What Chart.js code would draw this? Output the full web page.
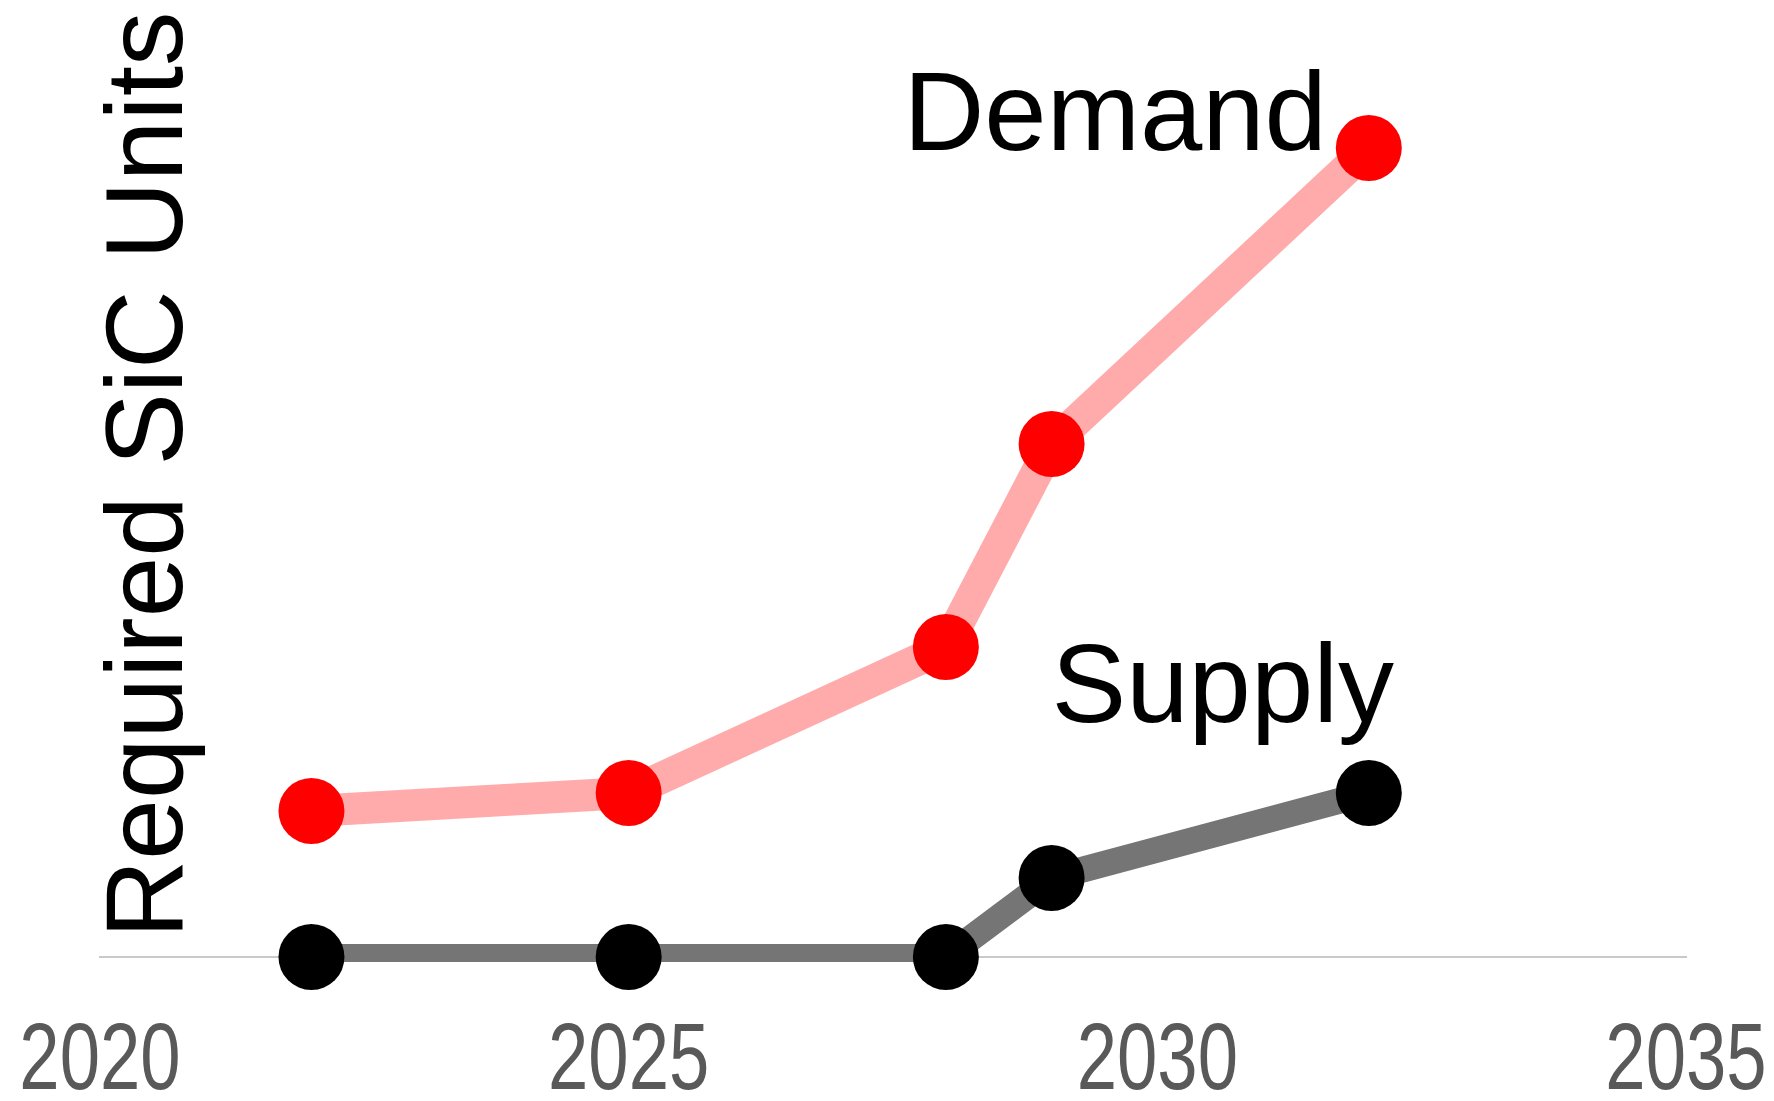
<!DOCTYPE html>
<html><head><meta charset="utf-8">
<script src="https://cdn.jsdelivr.net/npm/chart.js@4"></script>
<style>html,body{margin:0;padding:0;background:#fff;} #wrap{width:1774px;height:1101px;position:relative;}</style>
</head><body><div id="wrap"><canvas id="c"></canvas></div>
<script>
const years = [2022, 2025, 2028, 2029, 2032];
const demand = [1.46, 1.64, 3.10, 5.13, 8.09];
const supply = [0, 0, 0, 0.79, 1.64];
const xTicks = [2020, 2025, 2030, 2035];
const yTitle = 'Required SiC Units';
const seriesLabels = ['Demand', 'Supply'];

const toXY = (vals) => years.map((x, i) => ({x: x, y: vals[i]}));
const FONT = '"Liberation Sans", Arial, sans-serif';
const TICK_SQUEEZE = 0.763; // tick labels in the reference are horizontally condensed

const labelPlugin = {
  id: 'seriesLabels',
  afterDatasetsDraw(chart) {
    const {ctx, chartArea} = chart;
    ctx.save();
    ctx.fillStyle = '#000';
    ctx.font = '109px ' + FONT;
    ctx.save();
    ctx.translate(chartArea.left + 82, chartArea.top + 418);
    ctx.rotate(-Math.PI / 2);
    ctx.textAlign = 'center';
    ctx.textBaseline = 'alphabetic';
    ctx.fillText(yTitle, 0, 0);
    ctx.restore();
    ctx.font = '112px ' + FONT;
    const dm = chart.getDatasetMeta(0).data;
    const dl = dm[dm.length - 1];
    ctx.textAlign = 'right';
    ctx.textBaseline = 'alphabetic';
    ctx.fillText(seriesLabels[0], dl.x - 42, dl.y + 2);
    const sm = chart.getDatasetMeta(1).data;
    const sl = sm[sm.length - 1];
    ctx.textAlign = 'left';
    ctx.fillText(seriesLabels[1], sm[3].x, sl.y - 71);
    ctx.restore();
  }
};

function condenseLabels(s) {
  if (s._condensed || typeof s.getLabelItems !== 'function' || typeof s.drawLabels !== 'function') return;
  s._condensed = true;
  const origGet = s.getLabelItems.bind(s);
  const origDraw = s.drawLabels.bind(s);
  s._computeLabelArea = function () { return undefined; };
  s.getLabelItems = function (area) {
    return origGet(area).map(it => {
      const o = it.options || {};
      if (!o.translation) return it;
      return Object.assign({}, it, {options: Object.assign({}, o, {translation: [o.translation[0] / TICK_SQUEEZE, o.translation[1]]})});
    });
  };
  s.drawLabels = function (area) {
    const ctx = s.ctx;
    ctx.save();
    ctx.scale(TICK_SQUEEZE, 1);
    origDraw(area);
    ctx.restore();
  };
}

new Chart(document.getElementById('c'), {
  type: 'line',
  data: {
    datasets: [
      {
        label: seriesLabels[0],
        data: toXY(demand),
        borderColor: '#FFABAB',
        borderWidth: 32,
        pointRadius: 33,
        pointBackgroundColor: '#FF0000',
        pointBorderWidth: 0,
        tension: 0,
        clip: false
      },
      {
        label: seriesLabels[1] + ' points',
        data: toXY(supply),
        showLine: false,
        pointRadius: 33,
        pointBackgroundColor: '#000000',
        pointBorderWidth: 0,
        clip: false
      },
      {
        label: seriesLabels[1],
        data: toXY(supply),
        borderColor: '#757575',
        borderWidth: 26,
        pointRadius: 0,
        tension: 0,
        clip: {left: false, right: false, top: false, bottom: 5}
      }
    ]
  },
  options: {
    responsive: true,
    maintainAspectRatio: false,
    animation: false,
    events: [],
    layout: {padding: {left: 100, right: 88, top: 57, bottom: 0}},
    plugins: {legend: {display: false}, tooltip: {enabled: false}},
    scales: {
      x: {
        type: 'linear',
        min: 2020,
        max: 2035,
        afterBuildTicks: (s) => { s.ticks = xTicks.map(v => ({value: v})); },
        afterFit: (s) => {
          s.height = 144;
          s.paddingLeft = 0;
          s.paddingRight = 0;
          condenseLabels(s);
        },
        ticks: {
          color: '#595959',
          font: {family: FONT, size: 95},
          padding: 0,
          maxRotation: 0,
          autoSkip: false,
          callback: (v) => String(v)
        },
        grid: {display: true, drawOnChartArea: false, drawTicks: true, tickLength: 49, color: 'rgba(0,0,0,0)', tickColor: 'rgba(0,0,0,0)'},
        border: {display: true, color: '#C9C9C9', width: 2}
      },
      y: {display: false, min: 0, max: 9}
    }
  },
  plugins: [labelPlugin]
});
</script>
</body></html>
